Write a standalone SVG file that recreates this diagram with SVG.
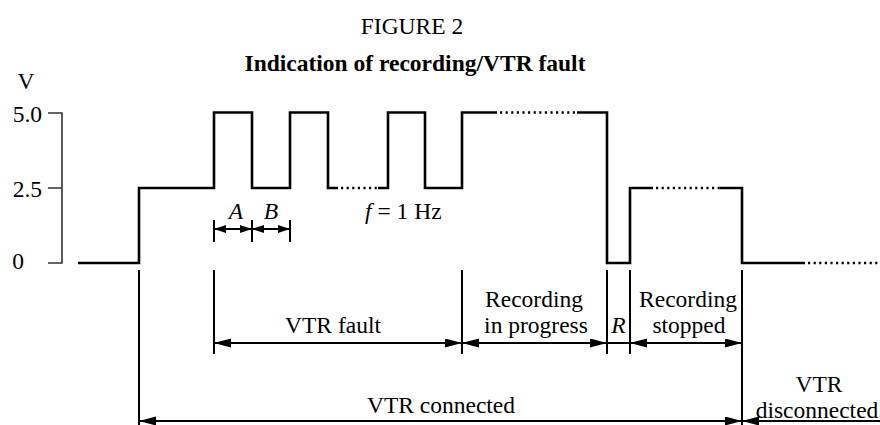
<svg xmlns="http://www.w3.org/2000/svg" width="880" height="425" viewBox="0 0 880 425">
<style>
text{font-family:"Liberation Serif","Times New Roman",serif;font-size:23.5px;fill:#000}
.c{text-anchor:middle}
.i{font-style:italic}
.b{font-weight:bold}
.ax{fill:none;stroke:#333;stroke-width:1.6}
.w{fill:none;stroke:#000;stroke-width:2.6;stroke-linejoin:miter}
.d{fill:none;stroke:#000;stroke-width:2.4;stroke-dasharray:2.2 3.4}
.e{fill:none;stroke:#000;stroke-width:2}
.a{fill:none;stroke:#000;stroke-width:2;marker-start:url(#ah);marker-end:url(#ah)}
.s{fill:none;stroke:#000;stroke-width:2;marker-start:url(#sh);marker-end:url(#sh)}
</style>
<defs>
<marker id="ah" markerUnits="userSpaceOnUse" markerWidth="18" markerHeight="10" refX="17" refY="4.5" orient="auto-start-reverse"><path d="M0,0 L17,4.5 L0,9 z" fill="#000"/></marker>
<marker id="sh" markerUnits="userSpaceOnUse" markerWidth="13" markerHeight="10" refX="12" refY="4" orient="auto-start-reverse"><path d="M0,0 L12,4 L0,8 z" fill="#000"/></marker>
</defs>
<g id="title">
<text class="c" x="412" y="34">FIGURE 2</text>
<text class="c b" x="415" y="71">Indication of recording/VTR fault</text>
</g>
<g id="axis">
<path class="ax" d="M48,113 H62 V263 H48 M48,188 H62"/>
<text class="c" x="26" y="89">V</text>
<text x="42" y="122" text-anchor="end">5.0</text>
<text x="42" y="197" text-anchor="end">2.5</text>
<text class="c" x="18" y="269">0</text>
</g>
<g id="waveform">
<path class="w" d="M78,263 H139 V188 H214 V112.5 H252 V188 H290 V112.5 H328 V188 H338"/>
<path class="d" d="M341,188 H378"/>
<path class="w" d="M378,188 H388 V112.5 H425 V188 H462 V112.5 H497"/>
<path class="d" d="M500,112.5 H577"/>
<path class="w" d="M577,112.5 H607 V263 H630 V188 H653"/>
<path class="d" d="M656,188 H720"/>
<path class="w" d="M720,188 H742 V263 H805"/>
<path class="d" d="M808,263 H880"/>
</g>
<g id="connectors">
<path class="e" d="M214,220 V242 M252,220 V242 M290,220 V242"/>
<path class="s" d="M214,229 H252"/>
<path class="s" d="M252,229 H290"/>
<path class="e" d="M139,270 V425 M214,270 V354 M462,270 V354 M607,270 V354 M630,270 V354 M742,270 V425"/>
<path class="a" d="M214,343 H462"/>
<path class="a" d="M462,343 H607"/>
<path class="e" d="M607,343 H630"/>
<path class="a" d="M630,343 H742"/>
<path class="a" d="M139,421 H742"/>
<path class="e" d="M880,421 H742" style="marker-end:url(#ah)"/>
</g>
<g id="labels">
<text class="c i" x="236" y="219">A</text>
<text class="c i" x="271" y="219">B</text>
<text x="365" y="219"><tspan class="i">f</tspan> = 1 Hz</text>
<text class="c" x="333" y="333">VTR fault</text>
<text class="c" x="534" y="307">Recording</text>
<text class="c" x="536" y="333">in progress</text>
<text class="c i" x="618.5" y="333">R</text>
<text class="c" x="688" y="307">Recording</text>
<text class="c" x="689" y="333">stopped</text>
<text class="c" x="441" y="413">VTR connected</text>
<text class="c" x="819" y="392">VTR</text>
<text class="c" x="817" y="418">disconnected</text>
</g>
</svg>
